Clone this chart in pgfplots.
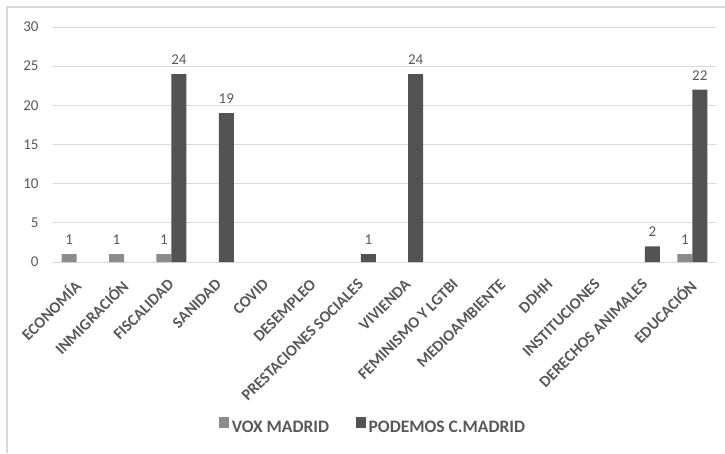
\documentclass[border=0pt]{standalone}
\usepackage{fontspec}
\setmainfont{Carlito}
\usepackage{pgfplots}
\pgfplotsset{compat=1.18}
\definecolor{vox}{HTML}{8C8C8C}
\definecolor{pod}{HTML}{535353}
\definecolor{txt}{HTML}{595959}
\definecolor{gridc}{HTML}{D9D9D9}
\pgfplotsset{/pgfplots/ybar legend/.style={/pgfplots/legend image code/.code={\fill[##1] (0pt,0pt) rectangle (10.5pt,10.5pt);}}}
\begin{document}
\begin{tikzpicture}[x=1pt,y=1pt]
\useasboundingbox (0,0) rectangle (725,-453);
\draw[gridc, line width=1.2pt] (7,-453) -- (7,-7) -- (725,-7);
\begin{axis}[
  at={(53pt,-262pt)}, anchor=south west,
  scale only axis, width=663pt, height=235pt,
  ymin=0, ymax=30, xmin=-0.5, xmax=13.5,
  ytick={0,5,...,30},
  xtick={0,...,13},
  xticklabels={ECONOMÍA,INMIGRACIÓN,FISCALIDAD,SANIDAD,COVID,DESEMPLEO,PRESTACIONES SOCIALES,VIVIENDA,FEMINISMO Y LGTBI,MEDIOAMBIENTE,DDHH,INSTITUCIONES,DERECHOS ANIMALES,EDUCACIÓN},
  /pgf/number format/assume math mode=true,
  major tick length=0pt,
  tick style={draw=none},
  axis line style={draw=none},
  ymajorgrids, grid style={gridc, line width=1pt},
  yticklabel style={font=\fontsize{15}{17}\selectfont, text=txt, xshift=-11pt},
  xticklabel style={xshift=-4pt, yshift=-14.5pt, rotate=45, anchor=north east, font=\bfseries\fontsize{16}{18}\selectfont, text=txt, inner sep=1pt},
  ybar=0pt, bar width=15pt,
  nodes near coords,
  nodes near coords style={font=\fontsize{15}{17}\selectfont, text=txt, yshift=6pt},
  legend style={at={(0.483,-0.702)}, anchor=center, draw=none, fill=none,
    legend columns=2, font=\bfseries\fontsize{17.5}{19}\selectfont, text=txt,
    nodes={inner xsep=2.5pt},
    /tikz/every even column/.append style={column sep=24pt}},
  legend cell align=left,
]
\addplot[fill=vox, draw=none] coordinates {(0,1) (1,1) (2,1) (13,1)};
\addplot[fill=pod, draw=none] coordinates {(2,24) (3,19) (6,1) (7,24) (12,2) (13,22)};
\legend{VOX MADRID, PODEMOS C.MADRID}
\end{axis}
\end{tikzpicture}
\end{document}
